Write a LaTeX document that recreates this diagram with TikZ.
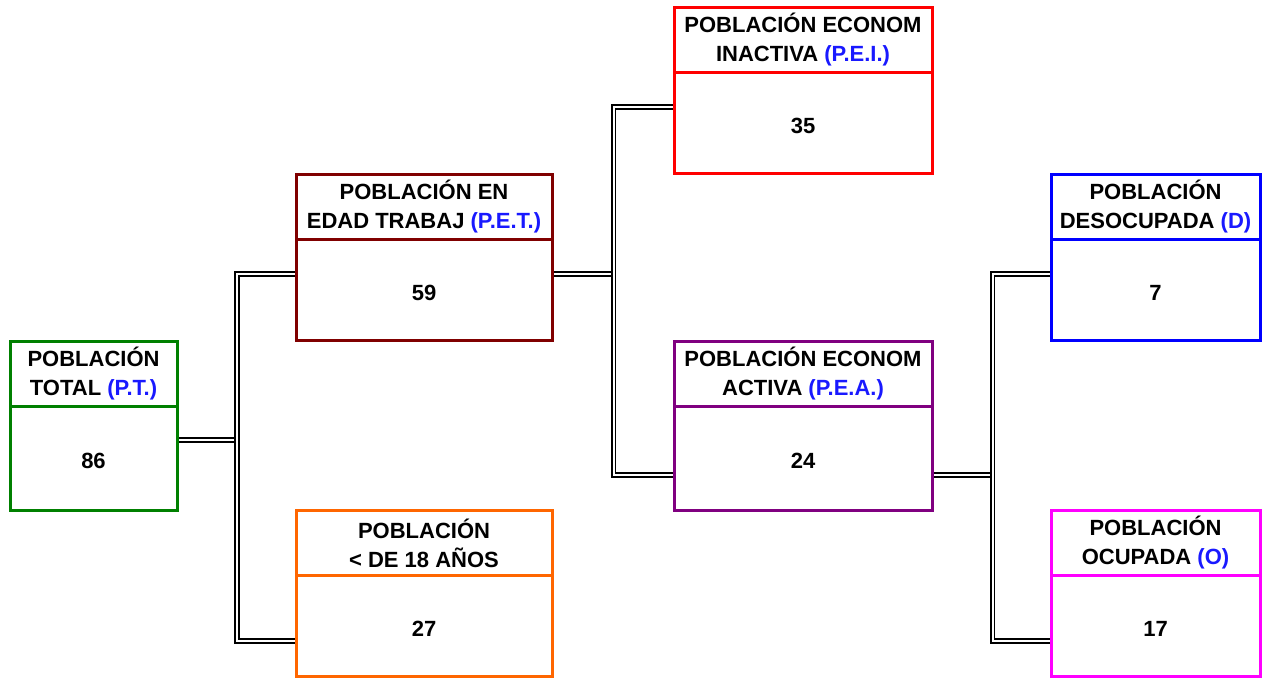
\documentclass[tikz,border=0pt]{standalone}
\usepackage{fontspec}
\setmainfont{Liberation Sans}
\usetikzlibrary{calc,backgrounds}
\definecolor{cgreen}{RGB}{0,128,0}
\definecolor{cmaroon}{RGB}{128,0,0}
\definecolor{corange}{RGB}{255,102,0}
\definecolor{cred}{RGB}{255,0,0}
\definecolor{cpurple}{RGB}{128,0,128}
\definecolor{cblue}{RGB}{0,0,255}
\definecolor{cmagenta}{RGB}{255,0,255}
\definecolor{lblue}{RGB}{25,25,255}
\newcommand\orgbox[8]{%
  \node[boxframe=#2, minimum width={#5-#3}, minimum height={#6-#4}, anchor=north west] (#1) at (#3,#4) {};
  \draw[#2, line width=3pt] (#1.west |- 0,{#4+65.5}) -- (#1.east |- 0,{#4+65.5});
  \node[hdr] (#1-h) at ($(#1.north)+(0,33)$) {#7};
  \node[val] (#1-v) at ($(#1.south)!0.5!(#1.north |- 0,{#4+65.5})+(0,3)$) {#8};
}
\begin{document}
\begin{tikzpicture}[x=1pt,y=-1pt,
  boxframe/.style={draw=#1, line width=3pt, rectangle, inner sep=0pt, outer sep=0pt, fill=white},
  hdr/.style={font=\fontsize{22}{29}\selectfont\bfseries, align=center, inner sep=0pt},
  val/.style={font=\fontsize{22}{26}\selectfont\bfseries, inner sep=0pt},
  link/.style={draw=black, line width=1.8pt, double=white, double distance=2pt}]
\useasboundingbox (0,0) rectangle (1263,678);

\orgbox{pt}{cgreen}{10}{341}{177}{510}{POBLACIÓN\\TOTAL \textcolor{lblue}{(P.T.)}}{86}
\orgbox{pet}{cmaroon}{296}{174}{552}{340}{POBLACIÓN EN\\EDAD TRABAJ \textcolor{lblue}{(P.E.T.)}}{59}
\orgbox{men}{corange}{296}{510}{552}{676}{POBLACIÓN\\< DE 18 AÑOS}{27}
\orgbox{pei}{cred}{674}{7}{932}{173}{POBLACIÓN ECONOM\\INACTIVA \textcolor{lblue}{(P.E.I.)}}{35}
\orgbox{pea}{cpurple}{674}{341}{932}{510}{POBLACIÓN ECONOM\\ACTIVA \textcolor{lblue}{(P.E.A.)}}{24}
\orgbox{des}{cblue}{1051}{174}{1260}{340}{POBLACIÓN\\DESOCUPADA \textcolor{lblue}{(D)}}{7}
\orgbox{ocu}{cmagenta}{1051}{510}{1260}{676}{POBLACIÓN\\OCUPADA \textcolor{lblue}{(O)}}{17}

\begin{pgfonlayer}{background}
  \fill[white] (0,0) rectangle (1263,678);
  \draw[link] (pet.west |- 0,274) -- (237,274) -- (237,641) -- (men.west |- 0,641);
  \draw[link] (pt.east |- 0,440) -- (234,440);
  \draw[link] (pei.west |- 0,107) -- (613.5,107) -- (613.5,475) -- (pea.west |- 0,475);
  \draw[link] (pet.east |- 0,274) -- (610.5,274);
  \draw[link] (des.west |- 0,274) -- (992.5,274) -- (992.5,641) -- (ocu.west |- 0,641);
  \draw[link] (pea.east |- 0,475) -- (989.5,475);
\end{pgfonlayer}
\end{tikzpicture}
\end{document}
